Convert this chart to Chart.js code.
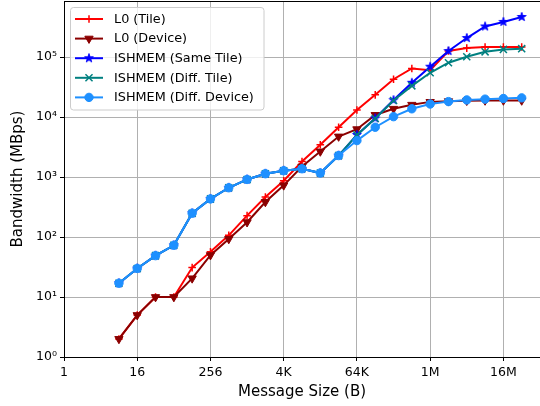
<!DOCTYPE html>
<html>
<head>
<meta charset="utf-8">
<script src="https://cdn.jsdelivr.net/npm/chart.js@4/dist/chart.umd.min.js"></script>
<style>
  html, body { margin: 0; padding: 0; background: #fff; }
  #wrap { width: 540px; height: 406px; overflow: hidden; }
</style>
</head>
<body>
<div id="wrap"><canvas id="bw" width="540" height="406"></canvas></div>
<script>
// message sizes in bytes (8 B .. 32 MB)
let sizes = [8, 16, 32, 64, 128, 256, 512, 1024, 2048, 4096, 8192, 16384, 32768,
  65536, 131072, 262144, 524288, 1048576, 2097152, 4194304, 8388608, 16777216, 33554432];

let xTickValues = [1, 16, 256, 4096, 65536, 1048576, 16777216];
let xTickLabels = ['1', '16', '256', '4K', '64K', '1M', '16M'];

let l0Tile = [2, 5, 10, 10, 31, 57, 107, 228, 465, 870, 1820, 3460, 6800,
  13200, 23600, 43000, 65000, 60800, 127000, 142000, 148000, 148000, 148000];
let l0Device = [2, 5, 10, 10, 20.5, 50, 93, 177, 385, 730, 1500, 2680, 4760,
  6300, 10900, 13800, 16100, 18000, 18500, 18800, 19000, 19000, 19000];
let shmemSameTile = [17, 30, 49, 73, 250, 433, 665, 915, 1140, 1280, 1380, 1170, 2290,
  5060, 9600, 19300, 37500, 69500, 127000, 209000, 326000, 388000, 470000];
let shmemDiffTile = [17, 30, 49, 73, 250, 433, 665, 915, 1140, 1280, 1380, 1170, 2290,
  5060, 9500, 19000, 33300, 55000, 81000, 102000, 123000, 135000, 139000];
let shmemDiffDevice = [17, 30, 49, 73, 250, 433, 665, 915, 1140, 1280, 1380, 1170, 2290,
  4070, 6800, 10200, 13800, 16600, 18200, 19400, 20000, 20500, 21000];

let yMajor = [1, 10, 100, 1000, 10000, 100000];
let yLabels = ['10\u2070', '10\u00b9', '10\u00b2', '10\u00b3', '10\u2074', '10\u2075'];

Chart.defaults.font.family = "'DejaVu Sans', sans-serif";
Chart.defaults.color = '#000';

// filled 5-point star like matplotlib '*'
function starImage(color, r) {
  let c = document.createElement('canvas');
  let s = Math.ceil(r * 2 + 2);
  c.width = c.height = s;
  let g = c.getContext('2d');
  g.beginPath();
  for (let k = 0; k < 10; k++) {
    let rad = k % 2 ? r * 0.382 : r;
    let a = -Math.PI / 2 + k * Math.PI / 5;
    g.lineTo(s / 2 + rad * Math.cos(a), s / 2 + rad * Math.sin(a));
  }
  g.closePath();
  g.fillStyle = color; g.fill();
  g.strokeStyle = color; g.lineWidth = 1; g.stroke();
  return c;
}

let pts = function(vals) {
  return sizes.map((s, i) => ({x: s, y: vals[i]}));
};

let series = [
  {label: 'L0 (Tile)', data: l0Tile, color: '#ff0000', style: 'cross', radius: 3.8, rot: 0, bw: 1.5, order: 5},
  {label: 'L0 (Device)', data: l0Device, color: '#8b0000', style: 'triangle', radius: 4.8, rot: 180, bw: 1, order: 4},
  {label: 'ISHMEM (Same Tile)', data: shmemSameTile, color: '#0000ff', style: starImage('#0000ff', 4.6), radius: 4.5, rot: 0, bw: 1, order: 3},
  {label: 'ISHMEM (Diff. Tile)', data: shmemDiffTile, color: '#008080', style: 'crossRot', radius: 5, rot: 0, bw: 1.5, order: 2},
  {label: 'ISHMEM (Diff. Device)', data: shmemDiffDevice, color: '#1e90ff', style: 'circle', radius: 4.2, rot: 0, bw: 1, order: 1}
];

let datasets = series.map(s => ({
  label: s.label,
  data: pts(s.data),
  borderColor: s.color,
  backgroundColor: s.color,
  borderWidth: 2,
  pointStyle: s.style,
  pointRadius: s.radius,
  pointRotation: s.rot,
  pointBorderWidth: s.bw,
  pointBorderColor: s.color,
  pointBackgroundColor: s.color,
  tension: 0,
  fill: false,
  order: s.order
}));

let extras = {
  id: 'extras',
  afterDraw(chart) {
    let ctx = chart.ctx;
    let area = chart.chartArea;
    let y = chart.scales.y;
    ctx.save();
    // top spine
    ctx.strokeStyle = '#000';
    ctx.lineWidth = 1;
    ctx.beginPath();
    ctx.moveTo(area.left, Math.round(area.top) + 0.5);
    ctx.lineTo(area.right, Math.round(area.top) + 0.5);
    ctx.stroke();
    // y ticks, major and minor
    y.ticks.forEach(t => {
      let py = Math.round(y.getPixelForValue(t.value)) + 0.5;
      let len = t.major ? 4 : 2.5;
      ctx.beginPath();
      ctx.moveTo(area.left - len, py);
      ctx.lineTo(area.left, py);
      ctx.stroke();
    });
    // legend
    let bx = 70.5, by = 7.5, bwid = 193.5, bh = 102.5, r = 3;
    ctx.beginPath();
    ctx.moveTo(bx + r, by);
    ctx.arcTo(bx + bwid, by, bx + bwid, by + bh, r);
    ctx.arcTo(bx + bwid, by + bh, bx, by + bh, r);
    ctx.arcTo(bx, by + bh, bx, by, r);
    ctx.arcTo(bx, by, bx + bwid, by, r);
    ctx.closePath();
    ctx.fillStyle = 'rgba(255,255,255,0.8)';
    ctx.fill();
    ctx.strokeStyle = '#cccccc';
    ctx.stroke();
    ctx.font = "12.8px 'DejaVu Sans'";
    ctx.textBaseline = 'middle';
    series.forEach((s, i) => {
      let ly = 19 + i * 19.6;
      ctx.strokeStyle = s.color;
      ctx.fillStyle = s.color;
      ctx.lineWidth = 2;
      ctx.beginPath();
      ctx.moveTo(75, ly);
      ctx.lineTo(103, ly);
      ctx.stroke();
      ctx.lineWidth = s.bw;
      Chart.helpers.drawPoint(ctx, {pointStyle: s.style, radius: s.radius, rotation: s.rot, borderWidth: s.bw}, 89, ly);
      ctx.fillStyle = '#000';
      ctx.fillText(s.label, 114, ly + 0.5);
    });
    ctx.restore();
  }
};

new Chart(document.getElementById('bw'), {
  type: 'line',
  data: {datasets: datasets},
  plugins: [extras],
  options: {
    responsive: false,
    animation: false,
    devicePixelRatio: 1,
    layout: {autoPadding: false, padding: {top: 1, left: 0, right: 0, bottom: 0}},
    plugins: {legend: {display: false}, tooltip: {enabled: false}},
    scales: {
      x: {
        type: 'logarithmic',
        min: 1,
        max: 67108864,
        bounds: 'data',
        afterBuildTicks: scale => {
          scale.ticks = xTickValues.map(v => ({value: v}));
        },
        afterFit: scale => {
          scale.height = 49;
          scale.paddingLeft = 0;
          scale.paddingRight = 0;
        },
        ticks: {
          autoSkip: false,
          maxRotation: 0,
          padding: 4,
          font: {size: 12.5},
          callback: (v, i) => xTickLabels[i]
        },
        grid: {color: '#b0b0b0', lineWidth: 1, tickColor: '#000', tickLength: 4},
        border: {color: '#000', width: 1},
        title: {display: true, text: 'Message Size (B)', font: {size: 15}, padding: {top: 0, bottom: 5}}
      },
      y: {
        type: 'logarithmic',
        min: 1,
        max: 867000,
        bounds: 'data',
        afterBuildTicks: scale => {
          let t = [];
          yMajor.forEach(m => {
            for (let k = 1; k <= 9; k++) {
              if (m * k <= 867000) t.push({value: m * k, major: k === 1});
            }
          });
          scale.ticks = t;
        },
        afterFit: scale => {
          scale.width = 64;
          scale.paddingTop = 0;
          scale.paddingBottom = 0;
        },
        ticks: {
          autoSkip: false,
          padding: 7,
          font: {size: 12.5},
          callback: function(v) {
            let idx = yMajor.indexOf(v);
            return idx >= 0 ? yLabels[idx] : null;
          }
        },
        grid: {
          drawTicks: false,
          lineWidth: 1,
          color: c => (c.tick && c.tick.major) ? '#b0b0b0' : 'rgba(0,0,0,0)'
        },
        border: {color: '#000', width: 1},
        title: {display: true, text: 'Bandwidth (MBps)', font: {size: 15}, padding: {top: 9, bottom: 0}}
      }
    }
  }
});
</script>
</body>
</html>
